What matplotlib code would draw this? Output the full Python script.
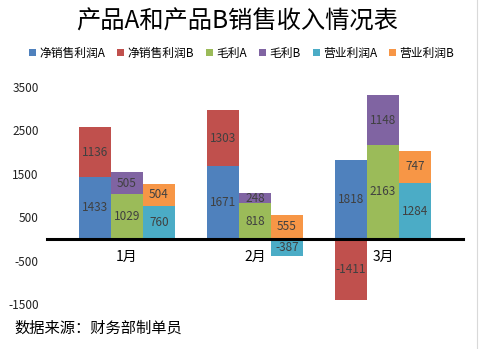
import numpy as np
import matplotlib.pyplot as plt
from matplotlib.lines import Line2D

plt.rcParams['font.family'] = ['Noto Sans CJK SC', 'DejaVu Sans']

# 数据
months = ['1月', '2月', '3月']
net_a = [1433, 1671, 1818]
net_b = [1136, 1303, -1411]
gross_a = [1029, 818, 2163]
gross_b = [505, 248, 1148]
op_a = [760, -387, 1284]
op_b = [504, 555, 747]
yticks = [-1500, -500, 500, 1500, 2500, 3500]

colors = {
    '净销售利润A': '#4F81BD', '净销售利润B': '#C0504D',
    '毛利A': '#9BBB59', '毛利B': '#8064A2',
    '营业利润A': '#4BACC6', '营业利润B': '#F79646',
}

fig = plt.figure(figsize=(4.83, 3.49), dpi=100)
ax = fig.add_axes([47 / 483, 1 - 304 / 349, 416 / 483, 217 / 349])

x = np.arange(len(months))
w = 0.25


def stack(pos, a, b, name_a, name_b):
    a = np.array(a)
    b = np.array(b)
    # Excel式堆积：正负值分别累加
    base_b = np.where((b >= 0) == (a >= 0), a, 0)
    ra = ax.bar(pos, a, w, color=colors[name_a], label=name_a, zorder=2)
    rb = ax.bar(pos, b, w, bottom=base_b, color=colors[name_b], label=name_b, zorder=2)
    return ra, rb


bars = []
bars += stack(x - w, net_a, net_b, '净销售利润A', '净销售利润B')
bars += stack(x, gross_a, gross_b, '毛利A', '毛利B')
bars += stack(x + w, op_a, op_b, '营业利润A', '营业利润B')

for r in bars:
    ax.bar_label(r, label_type='center', fontsize=8.5, color='#404040')

ax.set_xlim(-0.625, 2.625)
ax.set_ylim(-1500, 3500)
ax.set_yticks(yticks)
ax.set_yticklabels([str(v) for v in yticks], fontsize=8.5, color='#222222')
ax.tick_params(axis='y', length=0, pad=6)
ax.set_xticks(x)
ax.set_xticklabels(months, fontsize=9)
ax.tick_params(axis='x', length=0, pad=8)

for s in ['left', 'right', 'top']:
    ax.spines[s].set_visible(False)
ax.spines['bottom'].set_position(('data', 0))
ax.spines['bottom'].set_linewidth(2.2)
ax.spines['bottom'].set_zorder(3)

fig.text(0.49, 1 - 22 / 349, '产品A和产品B销售收入情况表', ha='center', va='center', fontsize=17.5)

order = ['净销售利润A', '净销售利润B', '毛利A', '毛利B', '营业利润A', '营业利润B']
handles, labels = ax.get_legend_handles_labels()
hmap = dict(zip(labels, handles))
fig.legend([hmap[k] for k in order], order, loc='center', bbox_to_anchor=(0.5, 1 - 53 / 349),
           ncol=6, frameon=False, fontsize=8.5, handlelength=0.6, handleheight=0.6,
           handletextpad=0.3, columnspacing=1.0)

fig.text(14 / 483, 1 - 328 / 349, '数据来源：财务部制单员', ha='left', va='center', fontsize=11)

# 右侧表格边线
fig.add_artist(Line2D([477 / 483, 477 / 483], [0, 1], color='#d9d9d9', lw=0.8))

fig.savefig('out.png', dpi=100)
